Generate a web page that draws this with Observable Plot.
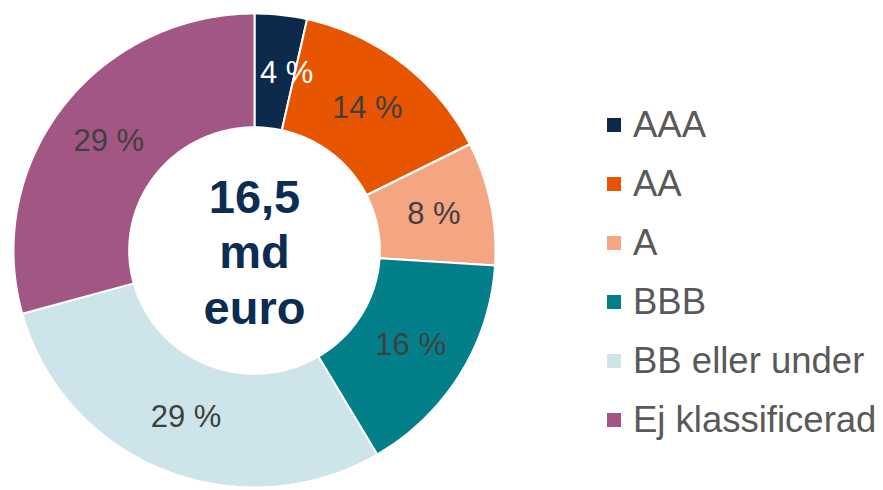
<!DOCTYPE html>
<html>
<head>
<meta charset="utf-8">
<script src="https://cdn.jsdelivr.net/npm/d3@7"></script>
<script src="https://cdn.jsdelivr.net/npm/@observablehq/plot@0.6"></script>
<style>
  html, body { margin: 0; padding: 0; background: #fff; }
  #wrap { position: relative; width: 883px; height: 490px; font-family: "Liberation Sans", Arial, sans-serif; }
  #legend { position: absolute; left: 607px; top: 95px; }
  .row { display: flex; align-items: center; height: 59px; }
  .sw { width: 14px; height: 14px; margin-right: 12px; }
  .lab { font-size: 36.5px; color: #595959; white-space: nowrap; }
</style>
</head>
<body>
<div id="wrap"><div id="chart"></div><div id="legend"></div></div>
<script>
const categories = ["AAA", "AA", "A", "BBB", "BB eller under", "Ej klassificerad"];
const shares = [3.5, 14.1, 8.4, 15.5, 29.2, 29.3];
const shareLabels = ["4 %", "14 %", "8 %", "16 %", "29 %", "29 %"];
const colors = ["#0b2a4c", "#e85500", "#f4a682", "#037f8a", "#cde5ea", "#a25683"];
const lightLabel = [true, false, false, false, false, false];
const centerLines = ["16,5", "md", "euro"];

const innerRatio = 0.52;
const arcs = d3.pie().sort(null).value(d => d)(shares);

const pts = [];
arcs.forEach((a, i) => {
  const n = Math.max(4, Math.ceil((a.endAngle - a.startAngle) / (Math.PI / 180)));
  for (let k = 0; k <= n; k++) {
    const t = a.startAngle + (a.endAngle - a.startAngle) * k / n;
    pts.push({cat: categories[i], x: Math.sin(t), y: Math.cos(t)});
  }
  for (let k = n; k >= 0; k--) {
    const t = a.startAngle + (a.endAngle - a.startAngle) * k / n;
    pts.push({cat: categories[i], x: innerRatio * Math.sin(t), y: innerRatio * Math.cos(t)});
  }
});

const mid = (1 + innerRatio) / 2;
const labelData = arcs.map((a, i) => {
  const t = (a.startAngle + a.endAngle) / 2;
  return {x: mid * Math.sin(t), y: mid * Math.cos(t), text: shareLabels[i], light: lightLabel[i]};
});

const chart = Plot.plot({
  width: 883,
  height: 490,
  margin: 0,
  style: {fontFamily: "Liberation Sans, Arial, sans-serif", background: "transparent"},
  x: {domain: [-1, 1], range: [13, 495], axis: null},
  y: {domain: [-1, 1], range: [487, 13], axis: null},
  color: {domain: categories, range: colors},
  marks: [
    Plot.line(pts, {x: "x", y: "y", z: "cat", fill: "cat", stroke: "white", strokeWidth: 2, curve: "linear-closed"}),
    Plot.text(labelData.filter(d => d.light), {x: "x", y: "y", text: "text", fill: "white", fontSize: 31, dx: 12, dy: 2}),
    Plot.text(labelData.filter(d => !d.light), {x: "x", y: "y", text: "text", fill: "#404040", fontSize: 31}),
    Plot.text([centerLines.join("\n")], {x: () => 0, y: () => 0, text: d => d, fill: "#0b2d51", fontSize: 47, fontWeight: "bold", lineHeight: 1.18})
  ]
});
document.getElementById("chart").appendChild(chart);

const legend = d3.select("#legend");
categories.forEach((c, i) => {
  const row = legend.append("div").attr("class", "row");
  row.append("div").attr("class", "sw").style("background", colors[i]);
  row.append("div").attr("class", "lab").text(c);
});
</script>
</body>
</html>
